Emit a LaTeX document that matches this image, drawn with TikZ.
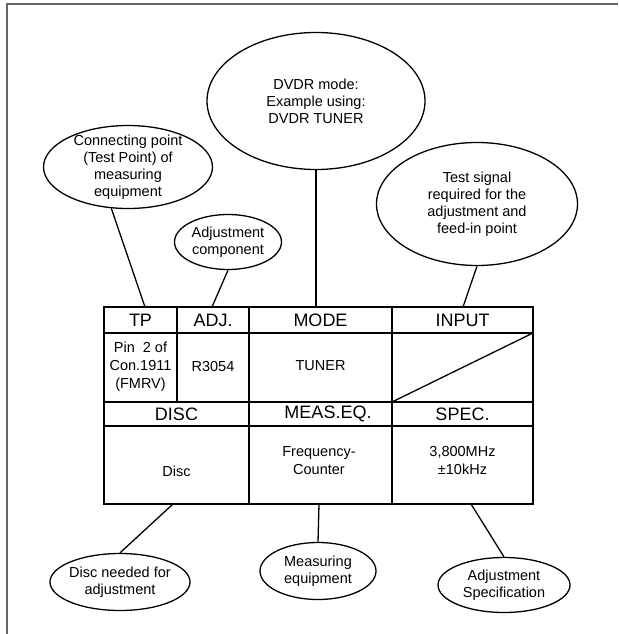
\documentclass[tikz,border=0pt]{standalone}
\usepackage{fontspec}
\setmainfont{Liberation Sans}
\usetikzlibrary{shapes.geometric}

\begin{document}
\begin{tikzpicture}[x=1pt,y=-1pt,
    bubble/.style={ellipse,draw,line width=1.3pt,inner sep=0pt},
    note/.style={align=center,font=\fontsize{14.5}{17}\selectfont},
    head/.style={font=\fontsize{18}{20}\selectfont},
    cell/.style={align=center,font=\fontsize{14.5}{18}\selectfont},
    link/.style={line width=1.3pt}]

    \useasboundingbox (0,0) rectangle (618,634);

    % frame, only top and left side
    \draw[line width=1.5pt,black!60] (618,4) -- (7,4) -- (7,634);

    % table frame and rules
    \draw[line width=1.3pt] (104,307) rectangle (533,504);
    \draw[line width=1.3pt] (104,333) -- (533,333);
    \draw[line width=1.3pt] (104,402) -- (533,402);
    \draw[line width=1.3pt] (104,426) -- (533,426);
    \foreach \x in {249,392}
        \draw[line width=1.3pt] (\x,307) -- (\x,504);
    \draw[line width=1.3pt] (177,307) -- (177,402);
    
    % no input for this step
    \draw[line width=1.3pt] (392,402) -- (533,333);

    % header row
    \node[head] (tp) at (140.5,320) {TP};
    \node[head] (adj) at (213,320) {ADJ.};
    \node[head] (mode) at (320.5,320) {MODE};
    \node[head] (input) at (462.5,320) {INPUT};

    \node[cell] (pin) at (140.5,367) {Pin~ 2 of\\Con.1911\\(FMRV)};
    \node[cell] (part) at (213,367) {R3054};
    \node[cell] (tuner) at (320.5,366) {TUNER};

    % second header row
    \node[head] (disc) at (176.5,414) {DISC};
    \node[head] (meas) at (328,414) {MEAS.EQ.};
    \node[head] (spec) at (462.5,414) {SPEC.};

    \node[cell] (discval) at (176.5,471) {Disc};
    \node[cell] (counter) at (319,461) {Frequency-\\Counter};
    \node[cell] (freq) at (462.5,461) {3,800MHz\\±10kHz};

    % where the callouts meet the table
    \coordinate (tptop) at (145,307);
    \coordinate (adjtop) at (212,307);
    \coordinate (modetop) at (316,307);
    \coordinate (inputtop) at (463,307);
    \coordinate (discbot) at (173,504);
    \coordinate (measbot) at (319,504);
    \coordinate (specbot) at (471,504);

    % callouts above
    \node[bubble,minimum width=218pt,minimum height=137pt,
        label={[note]center:DVDR mode:\\Example using:\\DVDR TUNER}] (modenote) at (316,101) {};
    \node[bubble,minimum width=169pt,minimum height=83pt,
        label={[note]center:Connecting point\\(Test Point) of\\measuring\\equipment}] (tpnote) at (128,167) {};
    \node[bubble,minimum width=107pt,minimum height=55pt,
        label={[note]center:Adjustment\\component}] (adjnote) at (228,242) {};
    \node[bubble,minimum width=201pt,minimum height=123pt,
        label={[note]center:Test signal\\required for the\\adjustment and\\feed-in point}] (inputnote) at (477,204) {};

    % callouts below
    \node[bubble,minimum width=140pt,minimum height=57pt,
        label={[note]center:Disc needed for\\adjustment}] (discnote) at (120,582) {};
    \node[bubble,minimum width=116pt,minimum height=57pt,
        label={[note]center:Measuring\\equipment}] (measnote) at (318,571) {};
    \node[bubble,minimum width=132pt,minimum height=55pt,
        label={[note]center:Adjustment\\Specification}] (specnote) at (504,585) {};

    % connectors
    \draw[link] (tpnote.248) -- (tptop);
    \draw[link] (adjnote.south) -- (adjtop);
    \draw[link] (modenote.south) -- (modetop);
    \draw[link] (inputnote.south) -- (inputtop);
    \draw[link] (discnote.north) -- (discbot);
    \draw[link] (measnote.north) -- (measbot);
    \draw[link] (specnote.north) -- (specbot);

\end{tikzpicture}
\end{document}
